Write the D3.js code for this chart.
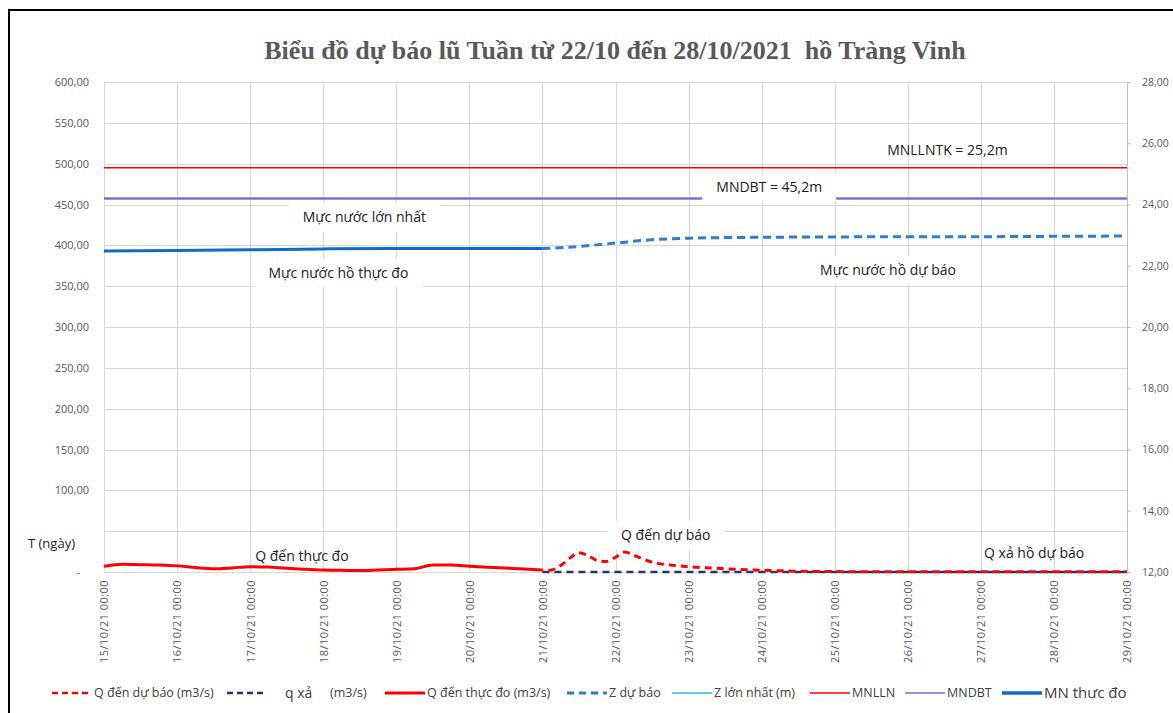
<!DOCTYPE html>
<html>
<head>
<meta charset="utf-8">
<script src="https://cdn.jsdelivr.net/npm/d3@7"></script>
<style>
  body { margin: 0; background: #fff; }
  svg { display: block; }
  text { font-family: "Open Sans", "Noto Sans", sans-serif; }
</style>
</head>
<body>
<div id="chart"></div>
<script>
// ---- data ----
const xTickLabels = ["15/10/21 00:00", "16/10/21 00:00", "17/10/21 00:00", "18/10/21 00:00", "19/10/21 00:00",
    "20/10/21 00:00", "21/10/21 00:00", "22/10/21 00:00", "23/10/21 00:00", "24/10/21 00:00",
    "25/10/21 00:00", "26/10/21 00:00", "27/10/21 00:00", "28/10/21 00:00", "29/10/21 00:00"];
const leftTicks = [0, 50, 100, 150, 200, 250, 300, 350, 400, 450, 500, 550, 600];
const rightTicks = [12, 14, 16, 18, 20, 22, 24, 26, 28];

// Q đến thực đo (m3/s) - left axis
const qMeasured = [
    ["15/10/21 00:00", 7], ["15/10/21 06:00", 9.5], ["15/10/21 12:00", 9], ["15/10/21 18:00", 8.5],
    ["16/10/21 00:00", 7.5], ["16/10/21 06:00", 5.5], ["16/10/21 12:00", 4], ["16/10/21 18:00", 5],
    ["17/10/21 00:00", 6.5], ["17/10/21 06:00", 6], ["17/10/21 12:00", 4.5], ["17/10/21 18:00", 3.5],
    ["18/10/21 00:00", 2.5], ["18/10/21 06:00", 2], ["18/10/21 12:00", 1.8], ["18/10/21 18:00", 2.5],
    ["19/10/21 00:00", 3.3], ["19/10/21 06:00", 4], ["19/10/21 12:00", 8.5], ["19/10/21 18:00", 8.5],
    ["20/10/21 00:00", 7], ["20/10/21 06:00", 5.8], ["20/10/21 12:00", 4.8], ["20/10/21 18:00", 3.7],
    ["21/10/21 00:00", 2.5]
];
// Q đến dự báo (m3/s) - left axis
const qForecast = [
    ["21/10/21 00:00", 1.6], ["21/10/21 03:00", 2.5], ["21/10/21 06:00", 8], ["21/10/21 09:00", 17],
    ["21/10/21 12:00", 23.5], ["21/10/21 15:00", 20], ["21/10/21 18:00", 14], ["21/10/21 21:00", 13],
    ["22/10/21 00:00", 18], ["22/10/21 03:00", 24.5], ["22/10/21 06:00", 20.5], ["22/10/21 09:00", 16],
    ["22/10/21 12:00", 12], ["22/10/21 18:00", 8.5], ["23/10/21 00:00", 6.5], ["23/10/21 12:00", 4],
    ["24/10/21 00:00", 2.2], ["24/10/21 12:00", 1], ["25/10/21 00:00", 0.5], ["26/10/21 00:00", 0.3],
    ["27/10/21 00:00", 0.3], ["28/10/21 00:00", 0.3], ["29/10/21 00:00", 0.3]
];
// q xả (m3/s) - left axis
const qRelease = [["21/10/21 00:00", 0], ["25/10/21 00:00", 0], ["29/10/21 00:00", 0]];
// MN thực đo (m) - right axis
const zMeasured = [
    ["15/10/21 00:00", 22.48], ["16/10/21 00:00", 22.50], ["17/10/21 00:00", 22.52],
    ["18/10/21 00:00", 22.55], ["19/10/21 00:00", 22.56], ["20/10/21 00:00", 22.56], ["21/10/21 00:00", 22.56]
];
// Z dự báo (m) - right axis
const zForecast = [
    ["21/10/21 00:00", 22.56], ["21/10/21 12:00", 22.63], ["22/10/21 00:00", 22.74], ["22/10/21 12:00", 22.85],
    ["23/10/21 00:00", 22.90], ["24/10/21 00:00", 22.93], ["25/10/21 00:00", 22.94], ["26/10/21 00:00", 22.95],
    ["27/10/21 00:00", 22.95], ["28/10/21 00:00", 22.96], ["29/10/21 00:00", 22.97]
];
// constant levels (m) - right axis
const mnlln = [["15/10/21 00:00", 25.2], ["29/10/21 00:00", 25.2]];
const mndbt = [["15/10/21 00:00", 24.2], ["29/10/21 00:00", 24.2]];

const legendNames = ["Q đến dự báo (m3/s)", "q xả", "Q đến thực đo (m3/s)", "Z dự báo",
    "Z lớn nhất (m)", "MNLLN", "MNDBT", "MN thưc đo"];

// annotations: [text, time, left-axis value]
const notes = [
    ["MNLLNTK = 25,2m", "26/10/21 13:00", 517],
    ["MNDBT = 45,2m", "24/10/21 02:30", 471],
    ["Mực nước lớn nhất", "18/10/21 13:30", 434],
    ["Mực nước hồ thực đo", "18/10/21 05:00", 366],
    ["Mực nước hồ dự báo", "25/10/21 17:30", 370],
    ["Q đến thực đo", "17/10/21 17:00", 20],
    ["Q đến dự báo", "22/10/21 16:30", 45],
    ["Q xả hồ dự báo", "27/10/21 17:30", 23]
];
const boxedNotes = ["MNDBT = 45,2m", "Mực nước lớn nhất", "Mực nước hồ thực đo", "Mực nước hồ dự báo", "Q đến dự báo"];

// ---- chart ----
const width = 1173, height = 713;
const margin = { top: 82, right: 46, bottom: 141, left: 104 };
const parse = d3.timeParse("%d/%m/%y %H:%M");

const svg = d3.select("#chart").append("svg")
    .attr("width", width)
    .attr("height", height);

// outer frame
svg.append("rect")
    .attr("x", 9).attr("y", 10)
    .attr("width", 1300).attr("height", 900)
    .attr("fill", "none").attr("stroke", "#000").attr("stroke-width", 2);

const x = d3.scaleTime()
    .domain([parse(xTickLabels[0]), parse(xTickLabels[xTickLabels.length - 1])])
    .range([margin.left, width - margin.right]);
const yLeft = d3.scaleLinear().domain([0, 600]).range([height - margin.bottom, margin.top]);
const yRight = d3.scaleLinear().domain([12, 28]).range([height - margin.bottom, margin.top]);

// grid
const grid = svg.append("g").attr("stroke", "#d9d9d9").attr("stroke-width", 1);
grid.selectAll("line.h").data(leftTicks).join("line")
    .attr("x1", margin.left).attr("x2", width - margin.right)
    .attr("y1", d => Math.round(yLeft(d)) + 0.5).attr("y2", d => Math.round(yLeft(d)) + 0.5);
grid.selectAll("line.v").data(xTickLabels).join("line")
    .attr("x1", d => Math.round(x(parse(d))) + 0.5).attr("x2", d => Math.round(x(parse(d))) + 0.5)
    .attr("y1", margin.top).attr("y2", height - margin.bottom);

// axes
const fmt = d3.format(".2f");
const axL = svg.append("g")
    .attr("transform", `translate(${margin.left},0)`)
    .call(d3.axisLeft(yLeft).tickValues(leftTicks).tickSize(0).tickPadding(15)
        // the 50 label sits under the "T (ngày)" box in the original
        .tickFormat(d => d === 0 ? "-" : d === 50 ? "" : fmt(d).replace(".", ",")));
axL.select(".domain").remove();
axL.selectAll("text").attr("fill", "#595959").style("font-size", "11px");
axL.selectAll(".tick").filter(d => d === 0).select("text").attr("x", -24);

const axR = svg.append("g")
    .attr("transform", `translate(${width - margin.right},0)`)
    .call(d3.axisRight(yRight).tickValues(rightTicks).tickSize(4).tickPadding(11)
        .tickFormat(d => fmt(d).replace(".", ",")));
axR.select(".domain").attr("stroke", "#bfbfbf");
axR.selectAll("line").attr("stroke", "#bfbfbf");
axR.selectAll("text").attr("fill", "#595959").style("font-size", "10.5px");

const axB = svg.append("g")
    .attr("transform", `translate(0,${height - margin.bottom})`)
    .call(d3.axisBottom(x).tickValues(xTickLabels.map(parse)).tickSize(0)
        .tickFormat(d3.timeFormat("%d/%m/%y %H:%M")));
axB.select(".domain").attr("stroke", "#d9d9d9");
axB.selectAll("text")
    .attr("transform", "rotate(-90)")
    .attr("x", -8).attr("y", 0).attr("dy", "0.35em")
    .attr("text-anchor", "end")
    .attr("fill", "#595959")
    .style("font-size", "11px")
    .style("letter-spacing", "0.45px");

// lines
const lineL = d3.line().x(d => x(parse(d[0]))).y(d => yLeft(d[1])).curve(d3.curveMonotoneX);
const lineR = d3.line().x(d => x(parse(d[0]))).y(d => yRight(d[1])).curve(d3.curveMonotoneX);
const body = svg.append("g").attr("fill", "none");

body.append("path").datum(mnlln).attr("d", lineR).attr("stroke", "#ff0000").attr("stroke-width", 1.5);
body.append("path").datum(mndbt).attr("d", lineR).attr("stroke", "#7176c9").attr("stroke-width", 2.5);
body.append("path").datum(zMeasured).attr("d", lineR).attr("stroke", "#0a6fc4").attr("stroke-width", 3);
body.append("path").datum(zForecast).attr("d", lineR).attr("stroke", "#2a7fd2").attr("stroke-width", 3)
    .attr("stroke-dasharray", "8,5");
body.append("path").datum(qRelease).attr("d", lineL).attr("stroke", "#1f3864").attr("stroke-width", 2.5)
    .attr("stroke-dasharray", "7,5");
body.append("path").datum(qMeasured).attr("d", lineL).attr("stroke", "#ff0000").attr("stroke-width", 3);
body.append("path").datum(qForecast).attr("d", lineL).attr("stroke", "#ff0000").attr("stroke-width", 3)
    .attr("stroke-dasharray", "7,5").attr("stroke-dashoffset", 6);

// annotations, some with white boxes
const noteG = svg.append("g");
notes.forEach(([txt, t, v]) => {
    const g = noteG.append("g").attr("transform", `translate(${x(parse(t))},${yLeft(v)})`);
    const rect = g.append("rect").attr("fill", "#fff");
    const label = g.append("text")
        .attr("text-anchor", "middle").attr("dy", "0.35em")
        .attr("fill", "#222").style("font-size", "14px").text(txt);
    const w = label.node().getComputedTextLength();
    if (boxedNotes.includes(txt)) {
        rect.attr("x", -w / 2 - 14).attr("y", -14).attr("width", w + 28).attr("height", 28);
    } else {
        rect.remove();
    }
});

// T (ngày)
svg.append("text").attr("x", 28).attr("y", 543).attr("dy", "0.35em")
    .attr("fill", "#222").style("font-size", "13px").text("T (ngày)");

// title
svg.append("text")
    .attr("x", 615).attr("y", 59)
    .attr("text-anchor", "middle")
    .attr("fill", "#595959")
    .style("font-family", "'Liberation Serif', 'DejaVu Serif', serif")
    .style("font-weight", "bold")
    .style("font-size", "26px")
    .style("white-space", "pre")
    .text("Biểu đồ dự báo lũ Tuần từ 22/10 đến 28/10/2021  hồ Tràng Vinh");

// legend
const legendStyle = [
    { color: "#ff0000", w: 2.5, dash: "6,4" },
    { color: "#1f3864", w: 2.5, dash: "6,4", size: "14px" },
    { color: "#ff0000", w: 3, dash: null },
    { color: "#2a7fd2", w: 3, dash: "7,5" },
    { color: "#2fb5ef", w: 1.5, dash: null },
    { color: "#ff0000", w: 1.5, dash: null },
    { color: "#8a63c6", w: 1.5, dash: null },
    { color: "#0a6fc4", w: 3.5, dash: null, size: "15px" }
];
const legendX = [52, 227, 385, 567, 672, 810, 905, 1002];
const legend = svg.append("g").attr("transform", "translate(0,693)");
legendNames.forEach((name, i) => {
    const s = legendStyle[i];
    const lx = legendX[i];
    legend.append("line")
        .attr("x1", lx).attr("x2", lx + 40).attr("y1", 0).attr("y2", 0)
        .attr("stroke", s.color).attr("stroke-width", s.w)
        .attr("stroke-dasharray", s.dash);
    legend.append("text")
        .attr("x", i === 1 ? lx + 58 : lx + 42).attr("y", 0).attr("dy", "0.35em")
        .attr("fill", "#404040")
        .style("font-size", s.size || "12.5px")
        .text(name);
});
// unit of q xả, set apart as in the original
legend.append("text")
    .attr("x", 330).attr("y", 0).attr("dy", "0.35em")
    .attr("fill", "#404040").style("font-size", "12.5px")
    .text("(m3/s)");
</script>
</body>
</html>
